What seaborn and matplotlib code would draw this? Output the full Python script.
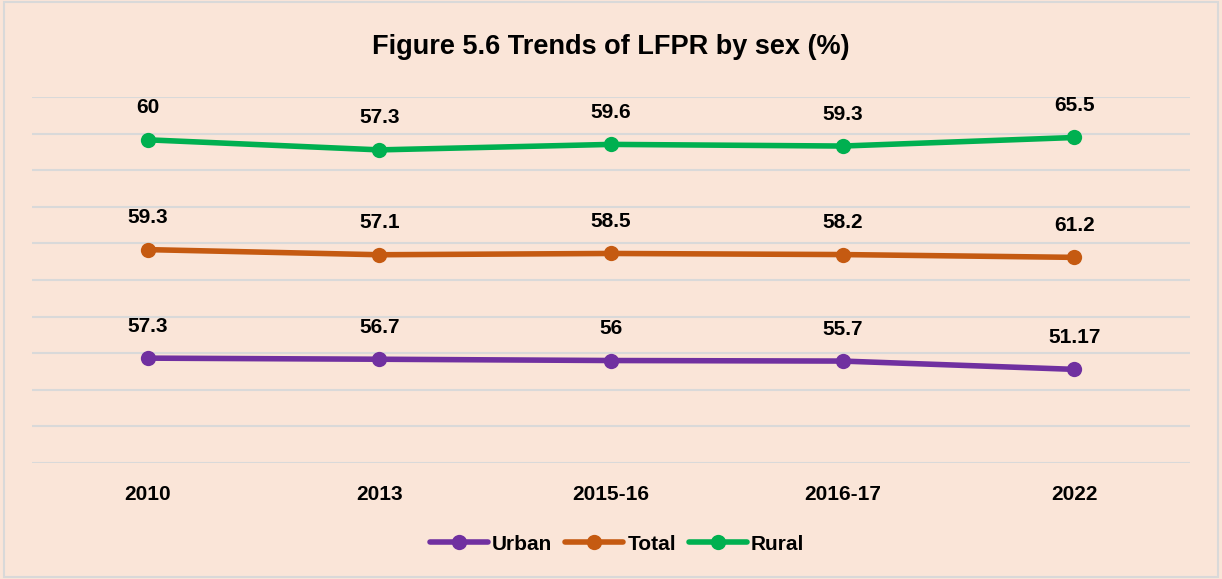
import matplotlib
matplotlib.use("Agg")
import matplotlib.pyplot as plt
import numpy as np
import pandas as pd
import seaborn as sns

years = ["2010", "2013", "2015-16", "2016-17", "2022"]
urban = [57.3, 56.7, 56.0, 55.7, 51.17]
total = [59.3, 57.1, 58.5, 58.2, 61.2]
rural = [60.0, 57.3, 59.6, 59.3, 65.5]
urban_labels = ["57.3", "56.7", "56", "55.7", "51.17"]
total_labels = ["59.3", "57.1", "58.5", "58.2", "61.2"]
rural_labels = ["60", "57.3", "59.6", "59.3", "65.5"]

series = ["Urban", "Total", "Rural"]
colors = {"Urban": "#7030A0", "Total": "#C55A11", "Rural": "#00B050"}
BG = "#FAE5D8"

sns.set_theme(style="white")
plt.rcParams["font.family"] = ["Liberation Sans Narrow", "Liberation Sans", "DejaVu Sans"]
plt.rcParams["font.weight"] = "bold"
plt.rcParams["text.color"] = "black"
plt.rcParams["xtick.color"] = "black"

# stacked line chart: each series sits on top of the previous one
vals = np.array([urban, total, rural])
stacked = vals.cumsum(axis=0)
labels = [urban_labels, total_labels, rural_labels]

df = pd.DataFrame({
    "year": years * 3,
    "pos": list(range(len(years))) * 3,
    "value": stacked.flatten(),
    "series": np.repeat(series, len(years)),
    "label": sum(labels, []),
})

fig = plt.figure(figsize=(12.22, 5.79), dpi=100, facecolor=BG)
ax = fig.add_axes([32 / 1222, 1 - 463 / 579, 1158 / 1222, 366 / 579])
ax.set_facecolor(BG)

sns.lineplot(data=df, x="pos", y="value", hue="series", hue_order=series,
             palette=colors, marker="o", markersize=11, markeredgewidth=0,
             linewidth=4, ax=ax, legend=True)

for _, r in df.iterrows():
    ax.annotate(r["label"], (r["pos"], r["value"]), xytext=(0, 23),
                textcoords="offset points", ha="center", va="center",
                fontsize=15, fontweight="bold", color="black")

ax.set_xlim(-0.5, 4.5)
ax.set_ylim(0, 200)
ax.set_yticks(np.arange(0, 201, 20))
ax.yaxis.grid(True, color="#D9D9D9", linewidth=1.5)
ax.set_axisbelow(True)
ax.tick_params(axis="y", left=False, labelleft=False)
ax.set_xticks(range(len(years)))
ax.set_xticklabels(years, fontsize=15, fontweight="bold")
ax.tick_params(axis="x", length=0, pad=16)
ax.set_xlabel("")
ax.set_ylabel("")
for s in ax.spines.values():
    s.set_visible(False)

handles, lbls = ax.get_legend_handles_labels()
ax.get_legend().remove()
fig.legend(handles, lbls, loc="center", bbox_to_anchor=(0.505, 1 - 544 / 579),
           ncol=3, frameon=False, fontsize=15, handlelength=2.8,
           columnspacing=0.6, handletextpad=0.2)

fig.text(0.5, 1 - 47 / 579, "Figure 5.6 Trends of LFPR by sex (%)",
         ha="center", va="center", fontsize=19.5, fontweight="bold")

border = plt.Rectangle((0.003, 0.003), 0.994, 0.994, transform=fig.transFigure,
                       fill=False, edgecolor="#D9D9D9", linewidth=1.5)
fig.patches.append(border)

fig.savefig("out.png", dpi=100, facecolor=BG)
